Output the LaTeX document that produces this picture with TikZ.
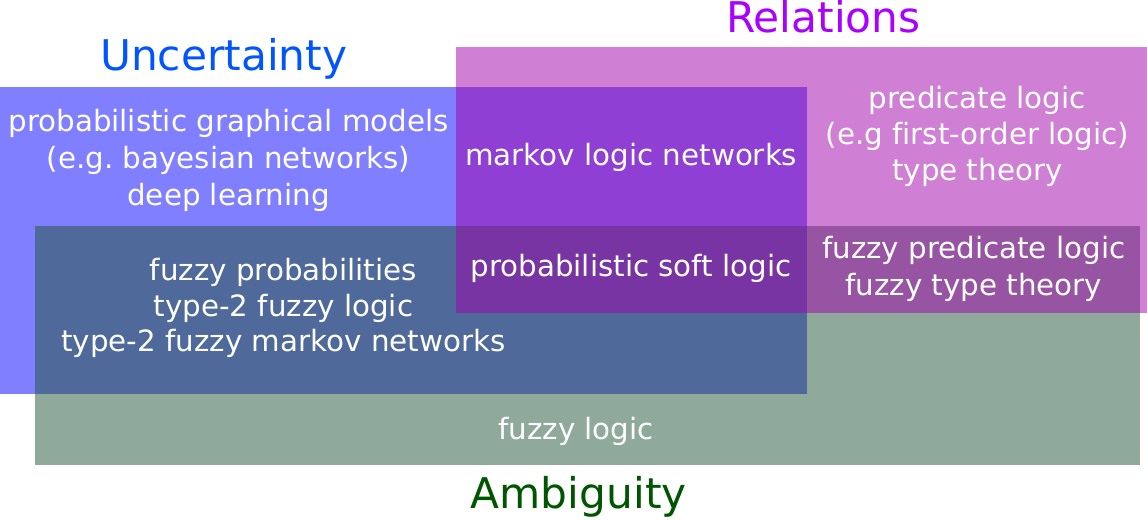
\documentclass[tikz,border=0pt]{standalone}
\usepackage{fontspec}
\setmainfont{DejaVu Sans}[Ligatures={NoCommon}]
\frenchspacing
\definecolor{ublue}{RGB}{0,0,255}
\definecolor{agreen}{RGB}{31,85,55}
\definecolor{rmag}{RGB}{160,0,170}
\definecolor{utitle}{RGB}{0,85,255}
\definecolor{rtitle}{RGB}{170,0,255}
\definecolor{atitle}{RGB}{0,85,0}
\tikzset{
  region/.style={draw=none, fill opacity=0.5},
  body/.style={text=white, anchor=base, inner sep=0pt, font=\fontsize{29.33}{36.67}\selectfont},
  title/.style={anchor=base, inner sep=0pt, font=\fontsize{42.3}{50}\selectfont}
}
\begin{document}
\begin{tikzpicture}[x=1pt,y=-1pt]
\useasboundingbox (0,0) rectangle (1147,521);
% regions
\fill[region, ublue] (0,87) rectangle (807,394);
\fill[region, agreen] (35,226) rectangle (1140,465);
\fill[region, rmag] (456,47) rectangle (1147,313);
% titles
\node[title, text=utitle] (tu) at (223.7,70.7) {Uncertainty};
\node[title, text=rtitle] (tr) at (823.5,32.7) {Relations};
\node[title, text=atitle] (ta) at (578.7,508) {Ambiguity};
% uncertainty only
\node[body] (u1) at (228.5,132) {probabilistic graphical models};
\node[body] (u2) at (228.5,168.7) {(e.g. bayesian networks)};
\node[body] (u3) at (228.5,205.4) {deep learning};
% uncertainty + relations
\node[body] (ur) at (631.3,166) {markov logic networks};
\node[body] (urg) at (631,276.7) {probabilistic soft logic};
% relations only
\node[body] (r1) at (977.3,108.5) {predicate logic};
\node[body] (r2) at (977.3,144.8) {(e.g first-order logic)};
\node[body] (r3) at (977.3,181) {type theory};
% relations + ambiguity
\node[body] (rg1) at (973.7,258.3) {fuzzy predicate logic};
\node[body] (rg2) at (973.7,295) {fuzzy type theory};
% uncertainty + ambiguity
\node[body] (ug1) at (283.4,280) {fuzzy probabilities};
\node[body] (ug2) at (283.4,316) {type-2 fuzzy logic};
\node[body] (ug3) at (283.4,351.7) {type-2 fuzzy markov networks};
% ambiguity only
\node[body] (g1) at (576,439) {fuzzy logic};
\end{tikzpicture}
\end{document}
